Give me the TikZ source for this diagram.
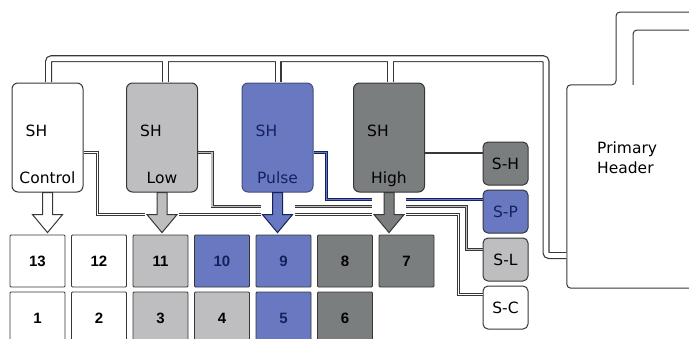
\documentclass[tikz,border=0pt]{standalone}
\usepackage{fontspec}
\setmainfont{DejaVu Sans}
\newfontfamily\numfont{Liberation Sans}
\usetikzlibrary{calc}

\definecolor{shlow}{RGB}{190,190,192}
\definecolor{shpulse}{RGB}{104,121,193}
\definecolor{shhigh}{RGB}{122,126,126}
\definecolor{navy}{RGB}{22,32,92}
\definecolor{edge}{RGB}{55,55,55}

\newcommand\shfont{\fontsize{15.5}{18}\selectfont}

\tikzset{
  shbox/.style={draw=edge, line width=1pt, rounded corners=6pt, minimum width=71pt, minimum height=109pt, inner sep=0pt},
  sbox/.style={draw=edge, line width=1pt, rounded corners=5pt, minimum width=45pt, minimum height=43pt, inner sep=0pt, font=\shfont},
  cell/.style={draw=edge, line width=0.8pt, rounded corners=1pt, minimum width=55pt, minimum height=52pt, inner sep=0pt, font=\numfont\bfseries\fontsize{15}{18}\selectfont},
  lbl/.style={font=\shfont, inner sep=0pt},
  wire/.style={draw=edge, line width=0.9pt, double distance=1.2pt},
  blockarrow/.style={draw=edge, line width=1pt, to path={let \p1=(\tikztostart), \p2=(\tikztotarget) in
    (\x1-5pt,\y1) -- (\x1-5pt,\y2+18pt) -- (\x1-15pt,\y2+18pt) -- (\x1,\y2) -- (\x1+15pt,\y2+18pt) -- (\x1+5pt,\y2+18pt) -- (\x1+5pt,\y1) -- cycle}},
}

\begin{document}
\begin{tikzpicture}[x=1pt, y=-1pt]
\useasboundingbox (0,0) rectangle (689,338);
\clip (0,0) rectangle (689,338);

% sample holders
\node[shbox, fill=white] (shC) at (47.5,137.5) {};
\node[shbox, fill=shlow] (shL) at (162,137.5) {};
\node[shbox, fill=shpulse, draw=navy!80] (shP) at (277.5,137.5) {};
\node[shbox, fill=shhigh] (shH) at (389,137.5) {};
\foreach \b/\t/\c in {shC/Control/black, shL/Low/black, shP/Pulse/navy, shH/High/black} {
  \node[lbl, text=\c, anchor=base west] (\b-sh) at ($(\b.north west)+(14,54)$) {SH};
  \node[lbl, text=\c, anchor=base] (\b-txt) at ($(\b.south)+(0,-9)$) {\t};
}

% switches
\foreach \n/\t/\c/\k/\y in {sH/S-H/shhigh/black/163.5, sP/S-P/shpulse/navy/211.5, sL/S-L/shlow/black/259.5, sC/S-C/white/black/307.5}
  \node[sbox, fill=\c, text=\k] (\n) at (505.5,\y) {\t};

% positions
\foreach \n/\c/\k [count=\i from 0] in {13/white/black, 12/white/black, 11/shlow/black, 10/shpulse/navy, 9/shpulse/navy, 8/shhigh/black, 7/shhigh/black}
  \node[cell, fill=\c, text=\k] (c\n) at (37.5+61.5*\i,261) {\n};
\foreach \n/\c/\k [count=\i from 0] in {1/white/black, 2/white/black, 3/shlow/black, 4/shlow/black, 5/shpulse/navy, 6/shhigh/black}
  \node[cell, fill=\c, text=\k] (c\n) at (37.5+61.5*\i,318) {\n};

% primary header
\node[fill=white, minimum width=138pt, minimum height=203pt, inner sep=0pt] (hdr) at (636,186.5) {};
\draw[edge, line width=1pt, rounded corners=4pt] (hdr.south east) -- (hdr.south west) -- (hdr.north west) -- (616,0 |- hdr.north) -- (616,12) -- (700,12);
\draw[edge, line width=1pt, rounded corners=4pt] (700,30) -- (633,30) -- (633,0 |- hdr.north);
\node[lbl, text=black, anchor=base west] (hdr-a) at (597,153.5) {Primary};
\node[lbl, text=black, anchor=base west] (hdr-b) at (597,173.5) {Header};

% bus
\foreach \w/\c in {7pt/edge, 4.6pt/white} {
  \draw[line width=\w, draw=\c, rounded corners=3pt, shorten <=0.5pt, shorten >=0.5pt] (hdr.west |- 0,255.5) -| (546,58.7) -| (48.5,0 |- shC.north);
  \foreach \b/\x in {shL/165.5, shP/278, shH/390.5}
    \draw[line width=\w, draw=\c, shorten >=0.5pt] (\x,58.7) -- (\x,0 |- \b.north);
}

% switch lines
\draw[wire, double=white] ($(shC.north east)+(0,70)$) -| ($(shC.north east)+(14,132)$) -| ($(sC.north west)+(-24,9)$) -- ($(sC.north west)+(0,9)$);
\draw[wire, double=shlow] ($(shL.north east)+(0,70)$) -| ($(shL.north east)+(14,124)$) -| ($(sL.north west)+(-16,12)$) -- ($(sL.north west)+(0,12)$);
\draw[wire, draw=navy, double=shpulse] ($(shP.north east)+(0,70)$) -| ($(shP.north east)+(13,117)$) -- ($(sP.north west)+(0,10)$);
\draw[edge, line width=2pt] ($(shH.north east)+(0,70)$) -- ($(sH.north west)+(0,11)$);

% arrows
\foreach \b in {shL, shP, shH}
  \fill[white] ($(\b.south)+(-17,4)$) rectangle ($(\b.south)+(17,27)$);
\draw[blockarrow, fill=white] (shC.south) to ($(shC.south |- c13.north)+(0,-2)$);
\draw[blockarrow, fill=shlow] (shL.south) to ($(shL.south |- c11.north)+(0,-2)$);
\draw[blockarrow, fill=shpulse, draw=navy] (shP.south) to ($(shP.south |- c9.north)+(0,-2)$);
\draw[blockarrow, fill=shhigh] (shH.south) to ($(shH.south |- c7.north)+(0,-2)$);
\end{tikzpicture}
\end{document}
